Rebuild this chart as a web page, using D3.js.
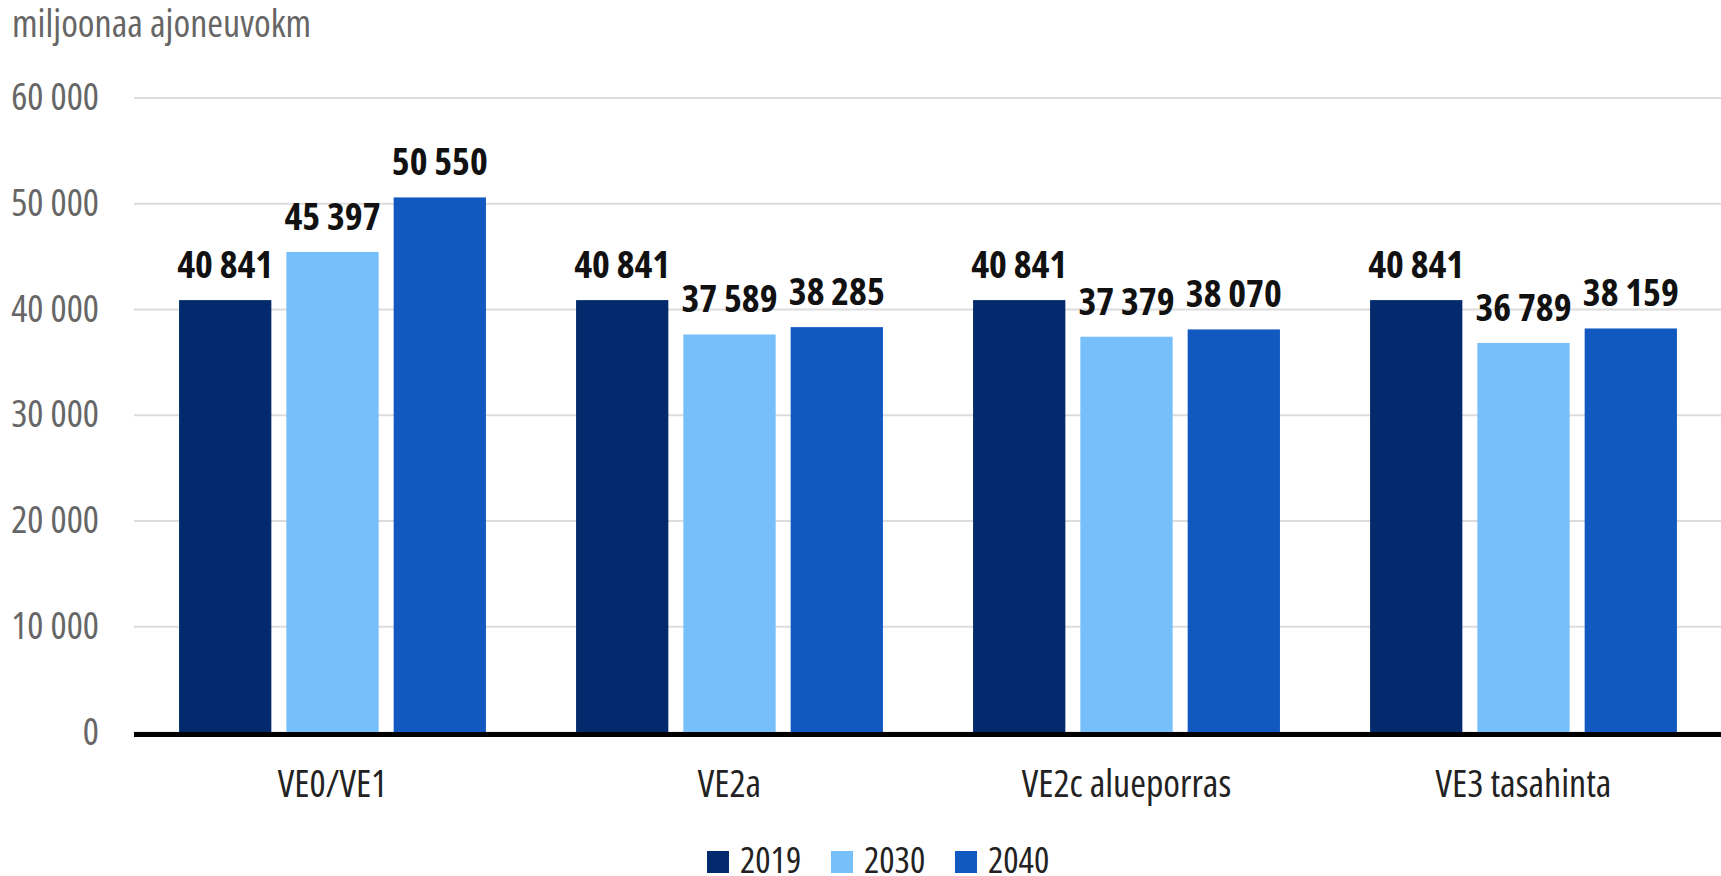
<!DOCTYPE html>
<html>
<head>
<meta charset="utf-8">
<script src="https://cdn.jsdelivr.net/npm/d3@7"></script>
<style>
  html, body { margin: 0; padding: 0; background: #ffffff; }
  svg { display: block; }
  text { font-family: "Open Sans", "Roboto", sans-serif; font-stretch: 75%; }
</style>
</head>
<body>
<svg id="chart" width="1721" height="876"></svg>
<script>
// Ajoneuvosuorite skenaarioittain
const categories = ["VE0/VE1", "VE2a", "VE2c alueporras", "VE3 tasahinta"];
const years = ["2019", "2030", "2040"];
const values2019 = [40841, 40841, 40841, 40841];
const values2030 = [45397, 37589, 37379, 36789];
const values2040 = [50550, 38285, 38070, 38159];
const yTicks = [0, 10000, 20000, 30000, 40000, 50000, 60000];
const yTitle = "miljoonaa ajoneuvokm";
const colors = ["#022a6c", "#76bffb", "#1158c1"];

const seriesValues = [values2019, values2030, values2040];
const rows = categories.map((c, i) => ({
  category: c,
  values: years.map((yr, j) => ({ year: yr, value: seriesValues[j][i] }))
}));

const fi = d3.formatLocale({ decimal: ",", thousands: " ", grouping: [3], currency: ["", " €"] });
const fmt = fi.format(",d");

const svg = d3.select("#chart");
const plotLeft = 134, plotRight = 1722, plotTop = 97.5, plotBottom = 732;

const x0 = d3.scaleBand().domain(categories).range([plotLeft, plotRight]).paddingInner(0.227).paddingOuter(0.1135);
const x1 = d3.scaleBand().domain(years).range([0, x0.bandwidth()]).paddingInner(0.14).paddingOuter(0);
const y = d3.scaleLinear().domain([0, 60000]).range([plotBottom, plotTop]);
const color = d3.scaleOrdinal().domain(years).range(colors);

// y title
svg.append("text")
  .attr("x", 12).attr("y", 37)
  .attr("fill", "#666666")
  .attr("font-size", 38)
  .text(yTitle);

// gridlines + tick labels
const yAxis = d3.axisLeft(y).tickValues(yTicks).tickFormat(fmt).tickSize(-(1721 - plotLeft)).tickPadding(35);
const gy = svg.append("g").attr("transform", `translate(${plotLeft},0)`).call(yAxis);
gy.attr("font-family", null).attr("font-size", null);
gy.select(".domain").remove();
gy.selectAll(".tick line").attr("stroke", "#dcdcdc").attr("stroke-width", 2);
gy.selectAll(".tick text")
  .attr("fill", "#666666")
  .attr("font-size", 38);

// bars
const groups = svg.append("g").selectAll("g")
  .data(rows).join("g")
  .attr("transform", d => `translate(${x0(d.category)},0)`);

groups.selectAll("rect")
  .data(d => d.values).join("rect")
  .attr("x", d => x1(d.year))
  .attr("y", d => y(d.value))
  .attr("width", x1.bandwidth())
  .attr("height", d => y(0) - y(d.value))
  .attr("fill", d => color(d.year));

groups.selectAll("text.val")
  .data(d => d.values).join("text")
  .attr("class", "val")
  .attr("x", d => x1(d.year) + x1.bandwidth() / 2)
  .attr("y", d => y(d.value) - 22)
  .attr("text-anchor", "middle")
  .attr("font-size", 38)
  .attr("font-weight", "bold")
  .attr("fill", "#111111")
  .text(d => fmt(d.value));

// x axis
const xAxis = d3.axisBottom(x0).tickSize(0).tickPadding(36);
const gx = svg.append("g").attr("transform", `translate(0,${plotBottom + 2.5})`).call(xAxis);
gx.attr("font-family", null).attr("font-size", null);
gx.select(".domain").attr("stroke", "#000").attr("stroke-width", 5)
  .attr("d", `M${plotLeft},0H1721`);
gx.selectAll(".tick text")
  .attr("fill", "#222222")
  .attr("font-size", 38)
  .attr("dy", "0.71em");

// legend
const legendX = [707, 831, 955];
const legend = svg.append("g").selectAll("g")
  .data(years).join("g")
  .attr("transform", (d, i) => `translate(${legendX[i]},851)`);
legend.append("rect").attr("width", 22).attr("height", 22).attr("fill", d => color(d));
legend.append("text")
  .attr("x", 33).attr("y", 22)
  .attr("font-size", 36)
  .attr("fill", "#222222")
  .text(d => d);
</script>
</body>
</html>
